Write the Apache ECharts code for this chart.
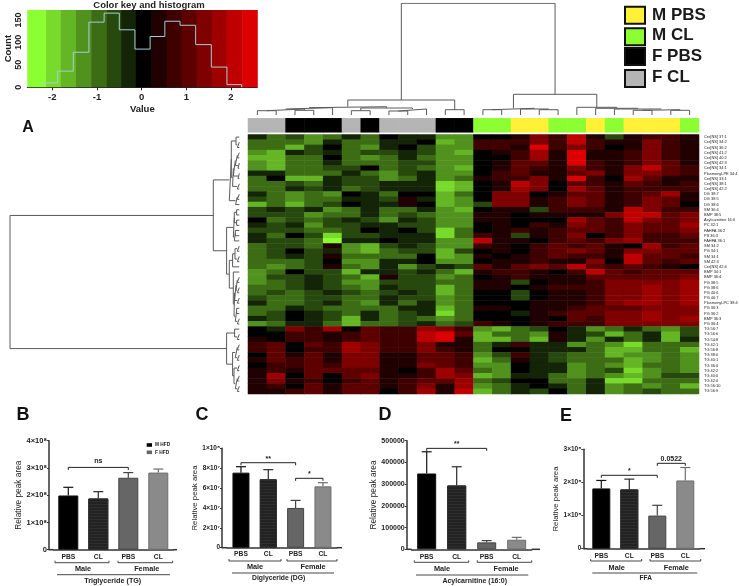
<!DOCTYPE html>
<html><head><meta charset="utf-8">
<style>html,body{margin:0;padding:0;background:#fff}#c{width:739px;height:586px}</style>
<script src="https://cdn.jsdelivr.net/npm/echarts@6/dist/echarts.min.js"></script>
</head><body><div id="c"></div>
<script>
const FONT = '"Liberation Sans", Arial, sans-serif';

// ---------- colour key ----------
const keyEdges = [-2.56,-2.14,-1.81,-1.47,-1.13,-0.78,-0.46,-0.13,0.22,0.56,0.90,1.23,1.57,1.90,2.25,2.59];
const keyColors = ['#8CFF32','#78DB2B','#64B624','#50921D','#3C6D15','#28490E','#142407','#000000','#200000','#3F0000','#5F0000','#7E0000','#9E0000','#BE0000','#DD0000'];
const histEdges = [-2.22,-1.88,-1.53,-1.18,-0.84,-0.50,-0.15,0.19,0.52,0.86,1.21,1.56,1.91,2.24];
const histCounts = [10,36,78,145,165,128,85,113,147,138,95,45,6,0];

// ---------- heat map ----------
const rowLabels = ['Cer[NS] 37:1','Cer[NS] 34:2','Cer[NS] 36:2','Cer[NS] 41:2','Cer[NS] 40:2','Cer[NS] 42:3','Cer[NS] 34:1','Plasmenyl-PE 34:4','Cer[NS] 33:1','Cer[NS] 38:1','Cer[NS] 42:2','DG 38:7','DG 38:5','DG 38:6','SM 36:4','BMP 38:5','Acylcarnitine 16:0','PC 32:1','FAHFA 36:2','PS 36:3','FAHFA 36:1','SM 34:2','PG 34:1','SM 34:1','SM 42:3','Cer[NS] 42:4','BMP 34:1','BMP 36:4','PG 38:5','PG 38:6','PG 40:6','PG 40:7','Plasmenyl-PC 38:4','PG 36:3','PG 36:2','BMP 36:3','PG 36:4','TG 56:7','TG 56:6','TG 54:8','TG 42:1','TG 56:8','TG 38:0','TG 40:1','TG 36:0','TG 42:2','TG 40:0','TG 42:0','TG 56:10','TG 56:9'];
const columnGroups = [3,3,2,2,2,3,2,3,3,3,2,2,1,1,0,0,1,1,0,1,0,0,0,1];
const groupNames = ['M PBS','M CL','F PBS','F CL'];
const groupColors = ['#FFF135','#8CFF32','#000000','#B5B5B5'];
const heatRows = [
[-0.5,-1.2,-0.6,-1.6,-1.2,-0.5,-0.9,0,-0.4,-0.2,-1.6,-1.5,0,0.1,0.3,1.2,0.5,1.9,0.2,-0.8,0.3,0.7,0.5,0.3],
[-1,-1.2,-1.1,-1.5,-0.3,-0.9,-1,-0.4,-0.5,0,-2,-1.6,0.6,0.6,0.5,1.2,0.5,1.9,0.5,0.4,0.3,1.2,0.5,0.2],
[-1,-1.2,-1.8,-0.8,0,-0.9,-1.4,-0.3,-0.1,-0.7,-1.6,-1.3,0.7,0.7,0.2,2.1,0.5,1.2,0.5,0,0.3,1.2,0.5,0.4],
[-1.3,-1.8,-0.3,-0.8,-0.2,-0.9,-0.8,-0.8,-0.4,-0.7,-1.6,-1.8,0,0.2,0.6,1.4,0.4,2.2,0.2,0.3,0.6,1.2,0.5,0.3],
[-1.8,-1.8,-1,-0.9,0,-0.9,-1.5,-0.9,-0.5,-0.9,-1.6,-1.5,0,0.1,0.6,1.4,0.4,2.3,0.4,0.2,0.7,1.2,0.7,0.3],
[-1.3,-1.8,-0.9,-0.9,-0.3,-0.9,-1,-0.9,-0.7,-0.8,-1.6,-1.5,0,0.2,1,0.8,0.4,2.3,0.5,0.2,0.7,1.2,0.8,0.4],
[-1.3,-1.8,-1.1,-1.2,-0.8,-0.6,0,-0.9,-0.7,-0.9,-1.6,-1.8,0,0.2,1,0.7,0.3,1.3,0.6,0.3,1.3,1.7,0.9,0.7],
[-0.4,-0.4,-1,-1.2,-1.2,-0.5,-0.9,-1.6,-0.7,-0.3,-1.6,-1.5,0.1,0.5,0.9,0.3,0.3,1,1.1,0.3,1.3,1.2,0.8,0.7],
[-1.2,0,-1.7,-1.7,-0.4,-0.6,-0.8,-1.3,-0.9,-0.4,-1.6,-1,0.4,0.5,0.5,1.3,0.4,2.1,0.6,0,1.5,0.8,0.3,0.4],
[-0.9,-1.2,-0.8,-1.2,-0.4,-0.8,-0.8,-0.4,-0.4,-0.4,-2.1,-1.9,0,0.4,1.9,1.3,0,1,0.5,0.2,0.8,0.7,0.3,0.7],
[-0.9,-1.2,-0.2,-0.8,-0.4,-1.2,-0.8,-0.4,-0.4,-0.4,-2.1,-2,0.1,0.3,1.6,1.3,0,1.4,0.8,0.2,0.6,0.7,0.5,0.7],
[-0.3,-1.2,-1.6,-1.2,-1.6,0,-0.4,-1.2,0,-0.1,-1.7,-1,0,1.2,1.1,0,0.2,0.8,0.8,0.4,0.6,1,1.5,0.4],
[-0.8,-0.9,-1.6,-1.2,-1,-0.5,-0.4,-0.7,0.3,-0.5,-1.9,-1.3,0,1.2,1.1,0.3,0.5,1.2,0.8,0.4,0.7,1.2,0.9,0.2],
[-1.7,-0.9,-1.9,-1.2,-0.7,0,-0.4,-0.5,0.4,0,-1.8,-1.4,-0.6,1.2,1.2,0.2,0.5,1.2,0.9,0.4,0.7,1.3,0.9,0.1],
[-0.8,-0.4,-0.7,-0.3,-1.4,-0.9,-0.4,-0.9,-0.9,-0.2,-1.4,-1.8,0.1,0.3,0.4,-0.7,0.5,0.6,0.6,0.4,1.7,1.1,0.7,0.7],
[-0.8,-0.6,-0.8,-1.5,-1,-1,-0.4,-0.9,-0.8,-1,-1.4,-1.4,0.2,0.3,0,0.2,0.2,0.4,0.4,1.1,1.7,1.7,0.8,1.2],
[0,-1.1,-0.8,-1.1,-0.7,-0.5,-0.6,-1.3,-0.3,-0.8,-1.6,-1.4,0.2,0.2,0,0,0,1.4,0.8,0.7,1.7,1.3,0.8,1.2],
[-0.3,-0.8,-0.4,-1.4,-0.8,-0.8,-0.3,-0.4,-0.8,-0.8,-1.6,-1.6,0,0.2,0,0.6,0.4,1.3,0.8,0.6,1.3,0.9,0.8,1.6],
[-0.7,-0.8,-0.7,-0.9,-1.2,-0.8,0,-0.3,-0.1,-0.7,-2.2,-1,0,0.2,0.7,0.2,0.6,1,0.8,0.6,1.3,0.9,0.8,1.3],
[-0.3,-1.2,0,-0.7,-2.2,-0.7,-0.7,-0.3,-0.4,-0.3,-2.3,-1,0.5,0.2,-0.8,0.2,0.7,1.3,0,0.5,1.3,0.5,0.5,0.9],
[-0.3,-0.8,-0.8,-1.2,-2.5,-0.4,-0.4,0,-0.3,-0.3,-1.4,-1.4,1.8,0.3,0.2,0,0.7,0.8,0.7,1.1,1.4,0.6,0.5,0.6],
[-1.2,-0.8,-0.8,-1.2,0.4,-1.3,-1.7,-0.8,-0.4,-0.7,-1.4,-1.4,0.5,0.2,0.1,0.6,1,0.7,0.8,0.2,0.1,1.5,0.5,0.9],
[-1.2,-0.8,0,-0.8,-0.3,-1.3,-1.7,-1.1,-0.7,-0.7,-2,-0.7,0.1,0.2,0,0.6,0.9,1.2,0.8,0.4,1.2,1.2,0.8,1],
[-1.2,-0.8,-0.2,-0.7,0.3,-1.2,-1.2,-1.2,-1.1,0,-2,-1.4,0.3,0,0.2,0.5,0.9,0.5,0.6,0.3,1.7,1,0.8,0.5],
[-1.1,-1.1,-1.1,-0.6,0,-1.4,-1.4,-0.3,-0.5,0,-1.4,-1.4,0.1,0.2,0.4,0.5,0.3,0.3,1.1,0.1,1.7,0.9,0.7,1],
[-1,-1.6,-1,-0.8,0.4,-1,-1.4,-0.3,-1.5,-0.7,-0.4,-0.6,0.9,0.4,0.9,1.2,0.9,1.9,1,0.7,0.9,0.7,0.4,0],
[-1.4,-0.9,0,-0.6,-0.8,-1.9,-0.2,-0.5,-0.8,-0.3,-1,-1.9,0.3,0.6,0.7,0.3,0,0.7,1.9,0.8,0.5,0.9,0.9,1],
[-1.4,-0.6,-0.8,-0.3,-0.7,-1,-2,0.2,-0.6,-0.6,-1.4,-1.1,0,0.4,0.5,0.2,0.2,0.4,0.9,0.8,1,0.8,1,1.3],
[-1.6,-1.1,-0.8,-0.3,-0.7,-1.5,-1.3,-0.7,-0.7,-0.6,-1.1,-1.1,0.3,0.2,-0.7,0.1,0.3,0.4,0.7,1.1,1.1,1.3,1.1,1.5],
[-1,-1.1,-0.8,-0.5,-0.7,-1.2,-1.5,-0.4,-0.8,-0.6,-1.8,-1.1,0.4,0.2,0,0.2,0.5,0.5,0.7,1.2,1.2,1.5,1.1,1.5],
[-1.2,-0.7,-1.2,-0.7,-0.4,-0.8,-1.2,-0.6,-0.4,-0.6,-1.8,-1.1,0,0,-0.7,0.1,0.4,0.4,0.7,1.2,1.2,1.6,1.1,1.5],
[-0.7,-1.1,-0.9,-0.7,-0.7,-1.1,-1,-0.3,-0.7,-0.7,-1.4,-1.1,0,0,-0.7,0,0.3,0.4,0.7,1.2,1.2,1.6,1.1,1.5],
[-0.4,-1.1,-0.9,-0.7,-0.3,-1.1,-1.5,-0.3,-1.2,-0.3,-1.4,-1.1,0,0,0,0.2,0.2,0.2,0.7,1.2,1.6,1.6,1.1,1.5],
[-1.2,-1.1,-0.2,-0.7,-1,-1.1,-1,-1,-0.3,-0.5,-1.8,-1.1,0.2,0.3,0,0.2,0.3,0.5,0.8,1,1,1.1,1.1,1.2],
[-1.2,-0.7,0,-0.5,-0.7,-1.1,-0.5,-0.9,-0.7,-0.3,-2.2,-1.1,0,0,-0.4,0.2,0.5,0.9,0.8,1.2,1.1,1.6,1.1,1.2],
[-0.4,-0.7,0,-0.3,-0.7,-2,-0.5,-1.1,-0.8,-0.9,-1.3,-1,0,0,0,0.2,0,0.8,0.7,1.2,1.1,1.6,1.1,1.5],
[-1.6,-1,-0.4,-0.3,-1,-2,-1.1,-1.1,-0.6,-0.3,-1.2,-0.6,0.7,0.3,0,0.2,0.6,0.6,0.7,1.1,1.1,1.1,1.1,1.1],
[0,-0.4,1.3,0.5,1.5,0,0.8,0.5,0.5,1.6,1.2,0.7,-1.4,-2,-1.2,-0.7,0.1,-0.4,-1.5,-1,-0.3,-1.1,-1.6,-0.7],
[0,0,0.7,0.5,0.3,0.7,0.9,0.5,0.5,1.8,2,0.9,-2,-1,-1.1,-1.4,0.2,-0.4,-0.7,-1.8,-1.2,-0.4,-2,-0.8],
[0.3,0,0.6,0.5,0.3,0.6,0.9,0.5,0.5,1.8,2,0.2,-2,-1.8,-1.2,-1.9,0.2,-0.4,-1.3,-0.2,-1.2,-0.3,-2,-0.3],
[0.5,0.9,0,0.8,0.7,1.5,1.1,0.5,0.5,1.2,0.3,0.4,-1.2,-0.5,0.7,-0.5,-0.5,-1.5,-0.9,-1.4,-2.2,-1.2,-1.1,-1.1],
[0.5,0.8,0,0.6,0.6,1.4,1.1,0.7,0.7,1.1,0.7,0.2,-1.2,0,0.1,-0.5,-0.5,-0.3,-0.9,-1.7,-2,-1.2,-1.1,-1.9],
[0.1,0.9,0.4,1,0.4,1.3,1.1,0.4,0.4,0.9,0.9,0.7,-1.3,-0.7,0.5,-0.5,-0.8,-1.2,-0.9,-1.7,-1.5,-1.5,-1.1,-1.6],
[0.2,1,0.5,1,0.4,1.3,1.1,0.4,0.4,0.9,0.9,0.7,-1.8,-0.9,0.4,-0.5,-0.8,-0.9,-0.9,-1.1,-2,-1.5,-1.1,-1.6],
[0,0.5,0.5,1,0.7,1.3,1.2,0.4,0.4,1.3,0.9,0.7,-1.4,-1.4,0,-0.5,-0.5,-1.3,-0.9,-1.6,-2,-1.2,-1.1,-1.6],
[0.2,0.6,0.2,0.9,0.8,0.9,0.8,0.4,0,0.7,1.6,0.8,-0.9,-1.4,0,-0.5,-0.3,-1.3,-0.9,-0.7,-2.4,-1.4,-1.1,-1.6],
[0.4,1.6,0,0.9,0.1,0.9,1.3,0.3,0.4,0.7,1.6,1.3,-1.7,-1.4,-0.2,-0.5,-0.9,-1.3,-0.9,-1.5,-1.9,-1.3,-0.7,-0.7],
[0.4,1.2,0.2,0.7,0.1,0.7,0.8,0.2,0.7,1,1,1.6,-0.9,-0.6,0,0,-0.9,-0.9,-0.3,-2.1,-2.3,-1.2,-1,-0.9],
[0.4,0.6,0,1,0.3,0.9,1,0.3,0.7,1.2,0.3,1.6,-1.3,-0.9,-0.4,0,-0.3,-0.9,-0.3,-1.6,-1,-1.5,-1.2,-1.9],
[0.2,0.4,0.6,1,0.2,0.9,1,0.1,0.7,1.5,0.4,1.9,-1.8,-0.9,-0.4,-0.8,0,-1.2,-0.3,-1.6,-1,-0.7,-1.2,-1.2]
];

// ---------- dendrograms: [pos a, pos b, height a, height b, join height] ----------
const colLinks = [
[0.5,1.5,0,0,4.3],[2.5,3.5,0,0,4.7],[1,3,4.3,4.7,6],[2,4.5,6,0,7.3],[5.5,6.5,0,0,4.3],[7.5,8.5,0,0,4],[8,9.5,4,0,6],[6,8.75,4.3,6,7],[3.25,7.375,7.3,7,8.3],[10.5,11.5,0,0,5.3],[5.31,11,8.3,5.3,15],
[12.5,13.5,0,0,5.3],[15.5,16.5,0,0,5.3],[14.5,16,0,5.3,6],[13,15.25,5.3,6,6.7],[20.5,21.5,0,0,4.7],[22.5,23.5,0,0,4.7],[21,23,4.7,4.7,5.3],[19.5,22,0,5.3,6],[18.5,20.75,0,6,6.7],[17.5,19.625,0,6.7,7.7],[14.125,18.56,6.7,7.7,20.7],
[8.16,16.34,15,20.7,111.7]];
const rowLinks = [
[1,2,0,0,2],[0,1.5,0,2,3.3],[3,4,0,0,2],[5,6,0,0,1.3],[3.5,5.5,2,1.3,4],[7,8,0,0,1.3],[4.5,7.5,4,1.3,6],[9,10,0,0,2],[6,9.5,6,2,6.7],[0.75,7.75,3.3,6.7,8],[11,12,0,0,2],[11.5,13,2,0,3.7],[4.25,12.25,8,3.7,10],
[14,15,0,0,2.7],[16,17,0,0,2.7],[14.5,16.5,2.7,2.7,5],[18,19,0,0,4],[18.5,20,4,0,5],[15.5,19.25,5,5,6],
[21,22,0,0,2],[23,24,0,0,2],[21.5,23.5,2,2,4.3],[22.5,25,4.3,0,6.7],[27,28,0,0,2],[29,30,0,0,2],[27.5,29.5,2,2,3.3],[31,32,0,0,2],[28.5,31.5,3.3,2,4.7],[33,34,0,0,2.7],[35,36,0,0,2],[33.5,35.5,2.7,2,4],[30,34.5,4.7,4,5.3],[26,32.25,0,5.3,6],[23.75,29.1,6.7,6,10],[17.4,26.4,6,10,12.7],[8.25,21.9,10,12.7,26],
[38,39,0,0,2],[37,38.5,0,2,4.7],[40,41,0,0,2],[42,43,0,0,2],[40.5,42.5,2,2,4],[44,45,0,0,2],[46,47,0,0,2],[48,49,0,0,2],[46.5,48.5,2,2,4],[44.5,47.5,2,4,5.3],[41.5,46,4,5.3,6.7],[37.75,43.75,4.7,6.7,12.7],
[15.1,40.75,26,12.7,229.3]];

// ---------- bar panels ----------
const barCategories = ['PBS','CL','PBS','CL'];
const barColors = ['#000000','#222222','#666666','#8A8A8A'];
const errColors = ['#111111','#2A2A2A','#444444','#6E6E6E'];
const tgMeans = [1.99e8,1.88e8,2.64e8,2.83e8];
const tgErrTops = [2.29e8,2.13e8,2.83e8,2.96e8];
const tgSig = [[0,2,3.02e8,'ns']];
const dgMeans = [7.55e7,6.88e7,4.0e7,6.17e7];
const dgErrTops = [8.15e7,7.85e7,4.76e7,6.54e7];
const dgSig = [[0,2,8.55e7,'**'],[2,3,6.98e7,'*']];
const acMeans = [349000,294000,32000,44000];
const acErrTops = [449000,380000,40000,55000];
const acSig = [[0,2,464700,'**']];
const ffaMeans = [1.82e8,1.79e8,1.0e8,2.06e8];
const ffaErrTops = [2.06e8,2.10e8,1.31e8,2.45e8];
const ffaSig = [[0,1.93,2.215e8,'*'],[2.02,3,2.577e8,'0.0522']];

const panels = [
 {means:tgMeans,errs:tgErrTops,sig:tgSig,left:53.3,width:120,top:440.7,height:109,max:4e8,interval:1e8,ext:[49,177],bw:20,gap:23,nameSize:8,labelSize:7.5,
  fmt:v=>v===0?'0':(v/1e8)+'×10⁸',catMargin:4,male:[55,109],female:[118,172.7],by:562.7,ty:569,mx:83,fx:146.7,ly:574.7,lx:[57,170],title:'Triglyceride (TG)',tx:112.7,tty:581,bY:549.7,tsize:7.2,sigOff:-6},
 {means:dgMeans,errs:dgErrTops,sig:dgSig,left:227.3,width:109.3,top:448.3,height:99.4,max:1e8,interval:2e7,ext:[222,342],bw:17,gap:19,nameSize:7.5,labelSize:6.5,
  fmt:v=>v===0?'0':(v===1e8?'1×10⁸':(v/1e7)+'×10⁷'),catMargin:3,male:[229,281],female:[287,337],by:561,ty:567,mx:255,fx:313,ly:573,lx:[232,334],title:'Diglyceride (DG)',tx:278.7,tty:578.5,bY:547.7,tsize:6.8,sigOff:-4},
 {means:acMeans,errs:acErrTops,sig:acSig,left:411.7,width:120,top:440.7,height:108.6,max:5e5,interval:1e5,ext:[406.7,540],bw:19,gap:25,nameSize:8,labelSize:7,
  fmt:v=>String(v),catMargin:4,male:[414.3,468.7],female:[477.3,531.7],by:562.3,ty:568.7,mx:442,fx:506,ly:575,lx:[416,528.3],title:'Acylcarnitine (16:0)',tx:474.7,tty:581,bY:549.3,tsize:7,sigOff:-4},
 {means:ffaMeans,errs:ffaErrTops,sig:ffaSig,left:587.3,width:112,top:449.3,height:99.4,max:3e8,interval:1e8,ext:[583.3,705],bw:18,gap:16,nameSize:7.5,labelSize:6.5,
  fmt:v=>v===0?'0':(v/1e8)+'×10⁸',catMargin:3.5,male:[590.7,641.7],female:[650,700.7],by:561,ty:567.7,mx:616.7,fx:676.3,ly:573,lx:[592.3,697.3],title:'FFA',tx:645.7,tty:578,bY:548.7,tsize:6.5,sigOff:-4.5}
];

// ---------- build ----------
const grids=[], xAxes=[], yAxes=[], series=[];
const hiddenVal = (min,max,extra)=>Object.assign({type:'value',show:false,min,max},extra||{});
function addGrid(g,x,y){grids.push(Object.assign({outerBoundsMode:'none',containLabel:false},g));xAxes.push(Object.assign({gridIndex:grids.length-1},x));yAxes.push(Object.assign({gridIndex:grids.length-1},y));return grids.length-1;}

// colour key
const gKey = addGrid({left:27.3,top:10,width:230,height:77.3},
 {type:'value',min:keyEdges[0],max:keyEdges[15],axisLine:{show:true,onZero:false,lineStyle:{color:'#222',width:1}},splitLine:{show:false},
  axisTick:{show:true,length:3,customValues:[-2,-1,0,1,2],lineStyle:{color:'#222'}},
  axisLabel:{customValues:[-2,-1,0,1,2],margin:5,fontFamily:FONT,fontWeight:'bold',fontSize:9.5,color:'#222',formatter:v=>String(v)},
  name:'Value',nameLocation:'middle',nameGap:17,nameTextStyle:{fontFamily:FONT,fontWeight:'bold',fontSize:9.5,color:'#222'}},
 {type:'value',min:0,max:172,splitLine:{show:false},axisLine:{show:true,lineStyle:{color:'#222'}},
  axisTick:{show:true,length:3,customValues:[0,50,100,150],lineStyle:{color:'#222'}},
  axisLabel:{customValues:[0,50,100,150],rotate:90,margin:4,fontFamily:FONT,fontWeight:'bold',fontSize:9,color:'#222'},
  name:'Count',nameLocation:'middle',nameGap:14,nameTextStyle:{fontFamily:FONT,fontWeight:'bold',fontSize:9.5,color:'#222'}});
series.push({type:'custom',xAxisIndex:gKey,yAxisIndex:gKey,encode:{x:[0,1],y:2},silent:true,
 data:keyColors.map((c,i)=>[keyEdges[i],keyEdges[i+1],172]),
 renderItem:(p,api)=>{const a=api.coord([api.value(0),api.value(2)]),b=api.coord([api.value(1),0]);
  return {type:'rect',shape:{x:a[0],y:a[1],width:b[0]-a[0]+0.5,height:b[1]-a[1]},style:{fill:keyColors[p.dataIndex]}};}});
series.push({type:'line',xAxisIndex:gKey,yAxisIndex:gKey,step:'end',showSymbol:false,silent:true,z:5,
 data:histEdges.map((x,i)=>[x,histCounts[i]]),lineStyle:{color:'#A6CFD4',width:1}});

// top dendrogram
const gTop = addGrid({left:248,top:3.3,width:451,height:111.7},hiddenVal(0,24),hiddenVal(0,111.7));
series.push({type:'line',xAxisIndex:gTop,yAxisIndex:gTop,showSymbol:false,silent:true,lineStyle:{color:'#5A5A5A',width:1},
 data:colLinks.flatMap(l=>[[l[0],l[2]],[l[0],l[4]],[l[1],l[4]],[l[1],l[3]],['-','-']])});

// column annotation strip
const gStrip = addGrid({left:248,top:118.3,width:451,height:14},
 {type:'category',show:false,data:columnGroups.map((g,i)=>i)},{type:'category',show:false,data:['group']});
const stripIndex = series.length;
series.push({type:'heatmap',xAxisIndex:gStrip,yAxisIndex:gStrip,silent:true,data:columnGroups.map((g,i)=>[i,0,g])});

// row dendrogram
const gLeft = addGrid({left:10,top:134.5,width:229.3,height:259.5},hiddenVal(0,229.3,{inverse:true}),hiddenVal(0,50,{inverse:true}));
series.push({type:'line',xAxisIndex:gLeft,yAxisIndex:gLeft,showSymbol:false,silent:true,lineStyle:{color:'#5A5A5A',width:1},
 data:rowLinks.flatMap(l=>[[l[2],l[0]+.5],[l[4],l[0]+.5],[l[4],l[1]+.5],[l[3],l[1]+.5],['-','-']])});

// heat map
const gHeat = addGrid({left:248,top:134.5,width:451,height:259.5},
 {type:'category',show:false,data:columnGroups.map((g,i)=>i)},
 {type:'category',inverse:true,position:'right',data:rowLabels,axisLine:{show:false},axisTick:{show:false},
  axisLabel:{interval:0,margin:5,fontSize:3.95,fontFamily:FONT,color:'#222',align:'left'}});
const heatIndex = series.length;
series.push({type:'heatmap',xAxisIndex:gHeat,yAxisIndex:gHeat,silent:true,progressive:0,
 data:heatRows.flatMap((row,r)=>row.map((v,c)=>[c,r,v]))});

// bar panels
const graphic=[];
const textEl=(t,x,y,font,extra)=>({type:'text',x,y,silent:true,style:Object.assign({text:t,font,fill:'#222',align:'center',verticalAlign:'middle'},extra||{})});
const lineEl=(x1,y1,x2,y2,w,c)=>({type:'line',silent:true,shape:{x1,y1,x2,y2},style:{stroke:c||'#333',lineWidth:w||1}});
const bold=s=>`bold ${s}px ${FONT}`;

panels.forEach((p,idx)=>{
 const g = addGrid({left:p.left,top:p.top,width:p.width,height:p.height},
  {type:'category',data:barCategories,axisLine:{lineStyle:{color:'#333',width:1.5}},axisTick:{alignWithLabel:true,length:2,lineStyle:{color:'#333'}},
   axisLabel:{interval:0,margin:p.catMargin,fontFamily:FONT,fontWeight:'bold',fontSize:6.7,color:'#222'}},
  {type:'value',min:0,max:p.max,interval:p.interval,offset:p.left-p.ext[0],splitLine:{show:false},
   axisLine:{show:true,lineStyle:{color:'#333',width:1.5}},axisTick:{show:true,length:2,lineStyle:{color:'#333'}},
   axisLabel:{margin:2,fontFamily:FONT,fontWeight:'bold',fontSize:p.labelSize,color:'#222',formatter:p.fmt,hideOverlap:false},
   name:'Relative peak area',nameLocation:'middle',nameGap:p.gap,nameTextStyle:{fontFamily:FONT,fontSize:p.nameSize+0.3,color:'#222'}});
 series.push({type:'bar',xAxisIndex:g,yAxisIndex:g,barWidth:p.bw,silent:true,
  data:p.means.map((v,i)=>({value:v,itemStyle:{color:barColors[i],borderColor:errColors[i],borderWidth:1,
    decal:i===1?{symbol:'rect',symbolSize:1,dashArrayX:[[1,0]],dashArrayY:[1,2],color:'rgba(70,70,70,.35)'}:null}}))});
 series.push({type:'custom',xAxisIndex:g,yAxisIndex:g,silent:true,z:4,encode:{x:0,y:[1,2]},
  data:p.means.map((v,i)=>[i,v,p.errs[i]]),
  renderItem:(prm,api)=>{const a=api.coord([api.value(0),api.value(1)]),b=api.coord([api.value(0),api.value(2)]);
   const st={stroke:errColors[prm.dataIndex],lineWidth:1.2,fill:null};
   return {type:'group',children:[
    {type:'line',shape:{x1:a[0],y1:a[1],x2:b[0],y2:b[1]},style:st},
    {type:'line',shape:{x1:b[0]-5,y1:b[1],x2:b[0]+5,y2:b[1]},style:st}]};}});
 series.push({type:'custom',xAxisIndex:g,yAxisIndex:g,silent:true,z:4,encode:{x:[0,1],y:2},
  data:p.sig.map(s=>s.slice(0,3)),
  renderItem:(prm,api)=>{const a=api.coord([api.value(0),api.value(2)]),b=api.coord([api.value(1),api.value(2)]);
   return {type:'group',children:[
    {type:'polyline',shape:{points:[[a[0],a[1]+2.5],a,b,[b[0],b[1]+2.5]]},style:{stroke:'#222',lineWidth:1,fill:null}},
    {type:'text',x:(a[0]+b[0])/2,y:a[1]+p.sigOff,style:{text:p.sig[prm.dataIndex][3],font:bold(7),fill:'#222',align:'center',verticalAlign:'middle'}}]};}});
 graphic.push(lineEl(p.ext[0],p.bY,p.left,p.bY,1.5),lineEl(p.left+p.width,p.bY,p.ext[1],p.bY,1.5));
 [p.male,p.female].forEach(b=>graphic.push({type:'polyline',silent:true,shape:{points:[[b[0],p.by-2],[b[0],p.by],[b[1],p.by],[b[1],p.by-2]]},style:{stroke:'#333',lineWidth:0.9,fill:null}}));
 graphic.push(textEl('Male',p.mx,p.ty,bold(7.3)),textEl('Female',p.fx,p.ty,bold(7.3)));
 graphic.push(lineEl(p.lx[0],p.ly,p.lx[1],p.ly,0.9),textEl(p.title,p.tx,p.tty,bold(p.tsize)));
});

// letters
[['A',28,128],['B',23,415],['C',202,415],['D',385,415.5],['E',566,416]].forEach(l=>graphic.push(textEl(l[0],l[1],l[2],bold(l[0]==='A'?16:18),{fill:'#111'})));
graphic.push(textEl('Color key and histogram',149,5,bold(9.5)));

// group legend
[[6.7,15],[28.3,35],[48,56.7],[70,77.7]].forEach((pos,i)=>{
 graphic.push({type:'rect',silent:true,shape:{x:625,y:pos[0],width:20,height:17},style:{fill:groupColors[i],stroke:'#111',lineWidth:2}});
 graphic.push(textEl(groupNames[i],652,pos[1],bold(17),{align:'left',fill:'#1a1a1a'}));
});
// HFD legend
[['M HFD','#000000',445],['F HFD','#666666',452.3]].forEach(l=>{
 graphic.push({type:'rect',silent:true,shape:{x:146.7,y:l[2]-1.8,width:5.3,height:3.6},style:{fill:l[1]}});
 graphic.push(textEl(l[0],155,l[2],bold(4.8),{align:'left'}));
});

// heat map colour bands: the same colours as the key, calibrated to the printed brightness
const heatGreenStretch = 1.15, heatRedStretch = 0.85;
const heatEdge = e => e<0 ? e*heatGreenStretch : e*heatRedStretch;
const pieces = keyColors.map((c,i)=>({gte:i===0?-99:heatEdge(keyEdges[i]),lt:i===keyColors.length-1?99:heatEdge(keyEdges[i+1]),color:c}));
const chart = echarts.init(document.getElementById('c'),null,{renderer:'canvas'});
chart.setOption({
 animation:false,backgroundColor:'#fff',
 grid:grids,xAxis:xAxes,yAxis:yAxes,series,graphic:{elements:graphic},
 visualMap:[
  {type:'piecewise',show:false,seriesIndex:heatIndex,dimension:2,pieces},
  {type:'piecewise',show:false,seriesIndex:stripIndex,dimension:2,pieces:groupColors.map((c,i)=>({value:i,color:c}))}
 ]
});
</script></body></html>
